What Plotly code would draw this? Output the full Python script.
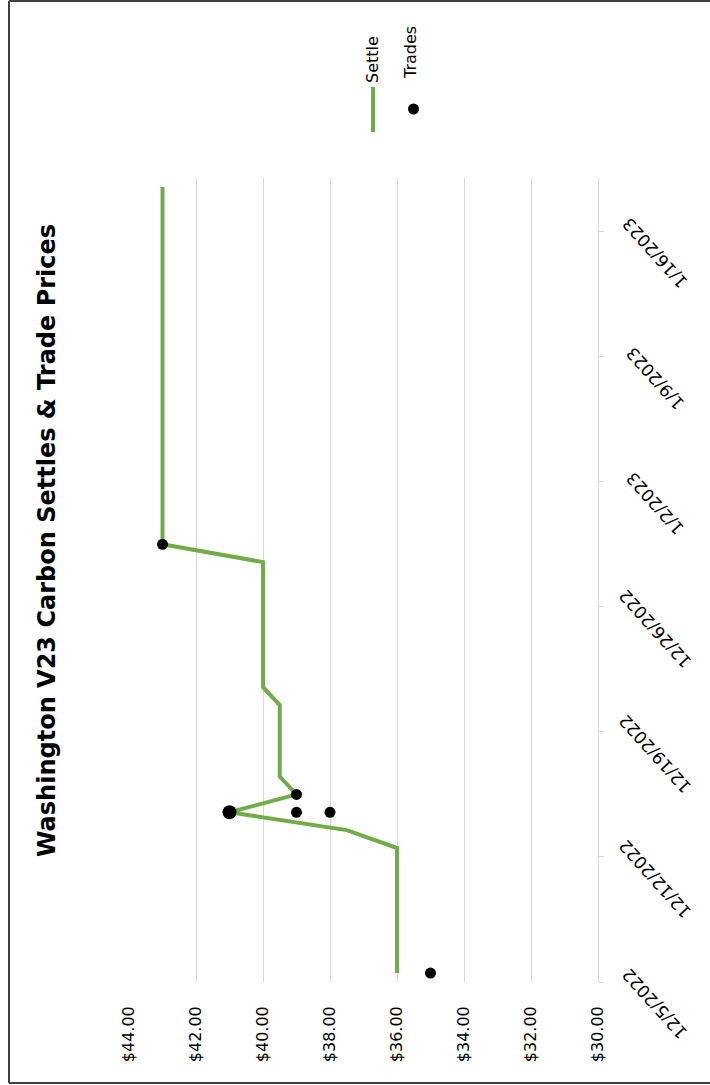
import pandas as pd
import plotly.graph_objects as go

# Daily settle prices ($)
settle_dates = [
    "2022-12-05", "2022-12-06", "2022-12-07", "2022-12-08", "2022-12-09",
    "2022-12-12", "2022-12-13", "2022-12-14", "2022-12-15", "2022-12-16",
    "2022-12-19", "2022-12-20", "2022-12-21", "2022-12-22", "2022-12-23",
    "2022-12-27", "2022-12-28", "2022-12-29", "2022-12-30",
    "2023-01-03", "2023-01-04", "2023-01-05", "2023-01-06",
    "2023-01-09", "2023-01-10", "2023-01-11", "2023-01-12", "2023-01-13",
    "2023-01-17", "2023-01-18",
]
settle_prices = [
    36.0, 36.0, 36.0, 36.0, 36.0,
    36.0, 37.5, 41.0, 39.0, 39.5,
    39.5, 39.5, 40.0, 40.0, 40.0,
    40.0, 40.0, 43.0, 43.0,
    43.0, 43.0, 43.0, 43.0,
    43.0, 43.0, 43.0, 43.0, 43.0,
    43.0, 43.0,
]

# Individual trades ($)
trade_dates = ["2022-12-05", "2022-12-14", "2022-12-14", "2022-12-14",
               "2022-12-14", "2022-12-15", "2022-12-29"]
trade_prices = [35.0, 41.0, 41.0, 39.0, 38.0, 39.0, 43.0]

price_ticks = [30, 32, 34, 36, 38, 40, 42, 44]
date_ticks = ["2022-12-05", "2022-12-12", "2022-12-19", "2022-12-26",
              "2023-01-02", "2023-01-09", "2023-01-16"]

title_text = "Washington V23 Carbon Settles & Trade Prices"

W, H = 710, 1085
L, R, T, B = 129, 598, 178, 982   # plot area in pixels

def px_x(x):
    return (x - L) / (R - L)

def px_y(y):
    return (B - y) / (B - T)

GREEN = "#70AD47"
FONT = "DejaVu Sans"

# points sit in the middle of each day
s_dates = pd.to_datetime(settle_dates) + pd.Timedelta(hours=12)
trades = pd.DataFrame({"date": pd.to_datetime(trade_dates) + pd.Timedelta(hours=12),
                       "price": trade_prices})
trades = trades.groupby(["date", "price"]).size().reset_index(name="count")

fig = go.Figure()
fig.add_trace(go.Scatter(
    x=settle_prices, y=s_dates, mode="lines", name="Settle",
    line=dict(color=GREEN, width=4), showlegend=False,
))
fig.add_trace(go.Scatter(
    x=trades["price"], y=trades["date"], mode="markers", name="Trades",
    marker=dict(color="#000000", opacity=1,
                size=[11 + 3 * (c - 1) for c in trades["count"]],
                line=dict(width=0)),
    showlegend=False,
))

fig.update_layout(
    width=W, height=H,
    margin=dict(l=L, r=W - R, t=T, b=H - B),
    paper_bgcolor="white", plot_bgcolor="white",
    font=dict(family=FONT, color="#000000"),
    xaxis=dict(
        range=[44, 30], tickvals=price_ticks,
        ticktext=[f"${v:.2f}" for v in price_ticks],
        tickangle=-90, tickfont=dict(size=16, family=FONT, color="#000000"),
        showgrid=True, gridcolor="#D9D9D9", gridwidth=1,
        zeroline=False, showline=False, ticks="", ticklabelstandoff=20,
    ),
    yaxis=dict(
        type="date", side="right",
        range=["2022-12-05", "2023-01-19"],
        tickvals=date_ticks, showticklabels=False,
        showgrid=False, zeroline=False,
        showline=True, linecolor="#D9D9D9", linewidth=1,
        ticks="outside", ticklen=5, tickcolor="#D9D9D9",
    ),
    showlegend=False,
)

# date labels, turned upside down along the right-hand axis
for d in pd.to_datetime(date_ticks):
    fig.add_annotation(
        x=px_x(655), y=d, xref="paper", yref="y",
        text=f"{d.month}/{d.day}/{d.year}", textangle=-132, showarrow=False,
        xanchor="center", yanchor="middle", yshift=-22,
        font=dict(size=17, family=FONT, color="#000000"),
    )

# title, rotated along the left edge
fig.add_annotation(
    x=px_x(47), y=px_y(541), xref="paper", yref="paper",
    text="<b>" + title_text + "</b>", textangle=-90, showarrow=False,
    font=dict(size=24, family=FONT, color="#000000"),
    xanchor="center", yanchor="middle",
)

# legend entries
fig.add_shape(type="line", xref="paper", yref="paper",
              x0=px_x(373), x1=px_x(373), y0=px_y(87), y1=px_y(132),
              line=dict(color=GREEN, width=4))
fig.add_shape(type="circle", xref="paper", yref="paper",
              x0=px_x(408), x1=px_x(419), y0=px_y(103.5), y1=px_y(114.5),
              fillcolor="#000000", line=dict(width=0))
for label, cx, cy in [("Settle", 372, 60), ("Trades", 411, 53)]:
    fig.add_annotation(
        x=px_x(cx), y=px_y(cy), xref="paper", yref="paper", text=label,
        textangle=-90, showarrow=False, xanchor="center", yanchor="middle",
        font=dict(size=16, family=FONT, color="#000000"),
    )

# chart frame
frame = dict(color="#404040", width=2)
fig.add_shape(type="line", xref="paper", yref="paper",
              x0=px_x(9), x1=px_x(9), y0=px_y(1), y1=px_y(1083), line=frame)
fig.add_shape(type="line", xref="paper", yref="paper",
              x0=px_x(9), x1=px_x(710), y0=px_y(1), y1=px_y(1), line=frame)
fig.add_shape(type="line", xref="paper", yref="paper",
              x0=px_x(9), x1=px_x(710), y0=px_y(1083), y1=px_y(1083), line=frame)

fig.write_html("out.html")
